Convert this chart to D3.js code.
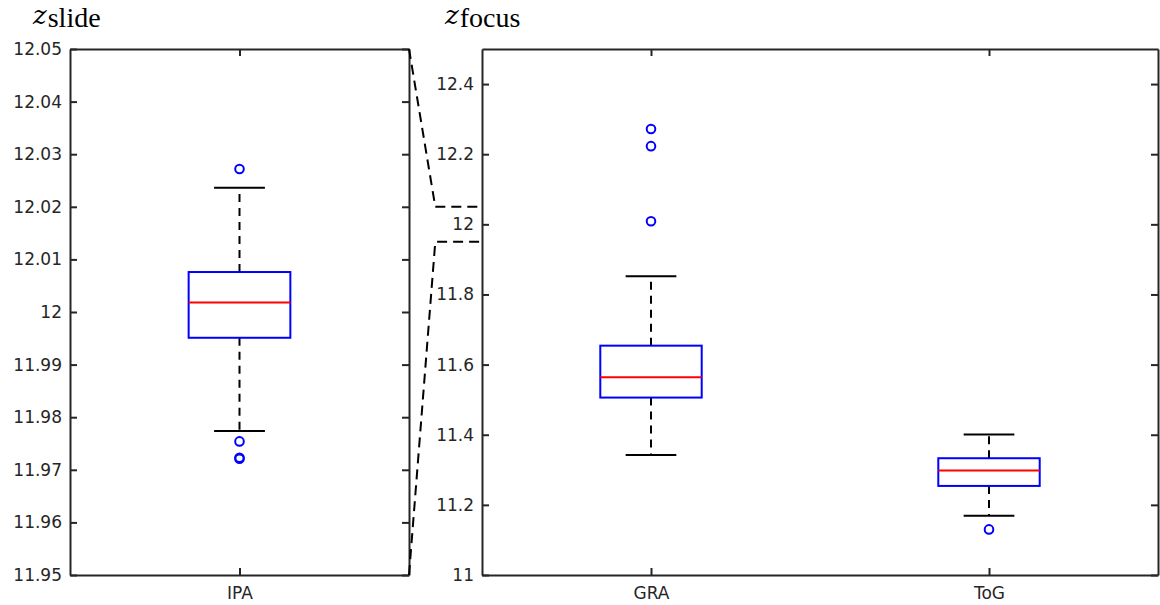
<!DOCTYPE html>
<html>

<head>
    <title>Box plots</title>
    <script src="https://d3js.org/d3.v7.min.js"></script>
    <style>
        body { margin: 0; background: #fff; }
        .tick text { font-family: "DejaVu Sans", sans-serif; font-size: 17px; fill: #262626; }
        .tick line, .domain { stroke: #262626; stroke-width: 2; }
    </style>
</head>

<body>

    <svg width="1160" height="605" id="mainSvg"></svg>
    <script>
        // box statistics, one entry per category
        const categories = ["IPA", "GRA", "ToG"];
        const lowerWhisker = [11.9774, 11.342, 11.169];
        const q1 = [11.9951, 11.506, 11.254];
        const medians = [12.0018, 11.564, 11.298];
        const q3 = [12.0076, 11.654, 11.333];
        const upperWhisker = [12.0236, 11.852, 11.401];
        const outliers = [
            [12.0272, 11.9754, 11.9723, 11.9721],
            [12.272, 12.223, 12.009],
            [11.130]
        ];

        // the two panels
        const slideCats = ["IPA"];
        const focusCats = ["GRA", "ToG"];
        const slideDomain = [11.95, 12.05];
        const focusDomain = [11, 12.5];

        const svg = d3.select("#mainSvg");
        const plotTop = 49, plotBottom = 575;

        const stats = categories.map((c, i) => ({
            name: c, lo: lowerWhisker[i], q1: q1[i], med: medians[i],
            q3: q3[i], hi: upperWhisker[i], out: outliers[i]
        }));

        const fmt = v => String(+v.toFixed(2));

        function drawPanel(cats, domain, x0, x1, tickCount, title, sub) {
            const g = svg.append("g");
            const x = d3.scalePoint().domain(cats).range([x0, x1]).padding(0.5);
            const y = d3.scaleLinear().domain(domain).range([plotBottom, plotTop]);
            const step = x.step();
            const boxW = step * 0.3, capW = step * 0.15;
            const data = stats.filter(d => cats.includes(d.name));

            // axes (ticks point inward on all four sides)
            g.append("g").attr("transform", `translate(${x0},0)`)
                .call(d3.axisLeft(y).ticks(tickCount).tickFormat(fmt).tickSize(-7).tickSizeOuter(0).tickPadding(8));
            g.append("g").attr("transform", `translate(${x1},0)`)
                .call(d3.axisRight(y).ticks(tickCount).tickFormat("").tickSize(-7).tickSizeOuter(0));
            g.append("g").attr("transform", `translate(0,${plotBottom})`)
                .call(d3.axisBottom(x).tickSize(-7).tickSizeOuter(0).tickPadding(12));
            g.append("g").attr("transform", `translate(0,${plotTop})`)
                .call(d3.axisTop(x).tickFormat("").tickSize(-7).tickSizeOuter(0));

            const box = g.selectAll(".box").data(data).join("g").attr("class", "box");

            // dashed whiskers
            box.append("line")
                .attr("x1", d => x(d.name)).attr("x2", d => x(d.name))
                .attr("y1", d => y(d.q3)).attr("y2", d => y(d.hi))
                .attr("stroke", "#000").attr("stroke-width", 2).attr("stroke-dasharray", "8,6");
            box.append("line")
                .attr("x1", d => x(d.name)).attr("x2", d => x(d.name))
                .attr("y1", d => y(d.q1)).attr("y2", d => y(d.lo))
                .attr("stroke", "#000").attr("stroke-width", 2).attr("stroke-dasharray", "8,6");

            // caps
            ["hi", "lo"].forEach(k => {
                box.append("line")
                    .attr("x1", d => x(d.name) - capW / 2).attr("x2", d => x(d.name) + capW / 2)
                    .attr("y1", d => y(d[k])).attr("y2", d => y(d[k]))
                    .attr("stroke", "#000").attr("stroke-width", 2);
            });

            box.append("rect")
                .attr("x", d => x(d.name) - boxW / 2).attr("width", boxW)
                .attr("y", d => y(d.q3)).attr("height", d => y(d.q1) - y(d.q3))
                .attr("fill", "none").attr("stroke", "#0000ff").attr("stroke-width", 2);

            box.append("line")
                .attr("x1", d => x(d.name) - boxW / 2).attr("x2", d => x(d.name) + boxW / 2)
                .attr("y1", d => y(d.med)).attr("y2", d => y(d.med))
                .attr("stroke", "#ff0000").attr("stroke-width", 2);

            box.selectAll("circle").data(d => d.out.map(v => ({ name: d.name, v: v }))).join("circle")
                .attr("cx", d => x(d.name)).attr("cy", d => y(d.v)).attr("r", 4.3)
                .attr("fill", "none").attr("stroke", "#0000ff").attr("stroke-width", 2);

            // LaTeX-like title: italic z with roman subscript
            const t = svg.append("text").attr("x", x0 - 37).attr("y", 24).attr("fill", "#000");
            t.append("tspan").attr("font-family", "'DejaVu Serif', serif")
                .attr("font-style", "italic").attr("font-size", 26).text(title);
            t.append("tspan").attr("font-family", "'Liberation Serif', serif")
                .attr("font-size", 28).attr("dx", 1).attr("dy", 3).text(sub);

            return y;
        }

        const slideX = [70, 409], focusX = [482, 1158];
        drawPanel(slideCats, slideDomain, slideX[0], slideX[1], 10, "z", "slide");
        const yFocus = drawPanel(focusCats, focusDomain, focusX[0], focusX[1], 7, "z", "focus");

        // zoom connector lines from the slide panel to its range on the focus panel
        const bendX = slideX[1] + (focusX[0] - slideX[1]) * 0.36;
        const connectors = [
            [[slideX[1], plotTop], [bendX, yFocus(slideDomain[1])], [focusX[0], yFocus(slideDomain[1])]],
            [[slideX[1], plotBottom], [bendX, yFocus(slideDomain[0])], [focusX[0], yFocus(slideDomain[0])]]
        ];
        svg.selectAll(".connector").data(connectors).join("path")
            .attr("class", "connector")
            .attr("d", d3.line())
            .attr("fill", "none").attr("stroke", "#000").attr("stroke-width", 2)
            .attr("stroke-dasharray", "10,6");
    </script>
</body>

</html>
